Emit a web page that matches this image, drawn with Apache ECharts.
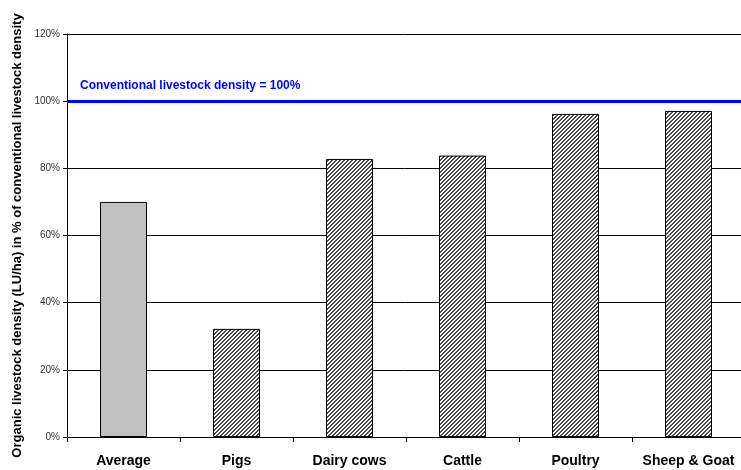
<!DOCTYPE html>
<html>
<head>
<meta charset="utf-8">
<script src="https://cdn.jsdelivr.net/npm/echarts@6/dist/echarts.min.js"></script>
<style>
  html, body { margin: 0; padding: 0; background: #fff; }
  #chart { width: 741px; height: 470px; }
</style>
</head>
<body>
<div id="chart"></div>
<script>
// Livestock categories and organic density as % of conventional density
const categories = ['Average', 'Pigs', 'Dairy cows', 'Cattle', 'Poultry', 'Sheep & Goat'];
const densityPct = [70, 32.2, 82.8, 83.8, 96.2, 97.1];
const conventionalPct = 100;
const yTicks = { min: 0, max: 120, interval: 20 };

// Fine diagonal hatching for the individual livestock types
function hatchPattern() {
  const c = document.createElement('canvas');
  c.width = 4; c.height = 4;
  const g = c.getContext('2d');
  g.fillStyle = '#ffffff';
  g.fillRect(0, 0, 4, 4);
  g.fillStyle = '#4a4a4a';
  for (let i = 0; i < 4; i++) {
    g.fillRect(3 - i, i, 1, 1);
    g.fillRect((4 - i) % 4, i, 1, 1);
  }
  return { image: c, repeat: 'repeat' };
}
const hatch = hatchPattern();

const barData = densityPct.map((v, i) => ({
  value: v,
  itemStyle: i === 0
    ? { color: '#c0c0c0', borderColor: '#000', borderWidth: 1 }
    : { color: hatch, borderColor: '#000', borderWidth: 1 }
}));

const chart = echarts.init(document.getElementById('chart'), null, { renderer: 'canvas' });
chart.setOption({
  animation: false,
  backgroundColor: '#fff',
  textStyle: { fontFamily: 'Liberation Sans, Arial, sans-serif' },
  grid: { left: 67, right: -4, top: 34, bottom: 33, containLabel: false, outerBoundsMode: 'none' },
  xAxis: {
    type: 'category',
    data: categories,
    axisLine: { lineStyle: { color: '#000', width: 1 } },
    axisTick: { show: true, interval: 0, length: 5, lineStyle: { color: '#000' } },
    axisLabel: {
      interval: 0, hideOverlap: false,
      color: '#000', fontWeight: 'bold', fontSize: 14, margin: 17
    },
    splitLine: { show: false }
  },
  yAxis: {
    type: 'value',
    min: yTicks.min, max: yTicks.max, interval: yTicks.interval,
    name: 'Organic livestock density (LU/ha) in % of conventional livestock density',
    nameLocation: 'middle',
    nameGap: 42,
    nameRotate: 90,
    nameTextStyle: { color: '#000', fontWeight: 'bold', fontSize: 13 },
    axisLine: { show: true, lineStyle: { color: '#000', width: 1 } },
    axisTick: { show: true, length: 4, lineStyle: { color: '#000' } },
    axisLabel: { color: '#333', fontSize: 10, margin: 7, formatter: '{value}%' },
    splitLine: { show: true, lineStyle: { color: '#000', width: 1 } }
  },
  series: [{
    type: 'bar',
    data: barData,
    barWidth: 47,
    markLine: {
      symbol: 'none',
      silent: true,
      data: [{ yAxis: conventionalPct }],
      lineStyle: { color: '#0000ff', width: 3, type: 'solid' },
      label: {
        show: true,
        position: 'insideStartTop',
        formatter: 'Conventional livestock density = ' + conventionalPct + '%',
        color: '#0000ff',
        fontWeight: 'bold',
        fontSize: 12,
        distance: [13, 9]
      }
    }
  }]
});
</script>
</body>
</html>
